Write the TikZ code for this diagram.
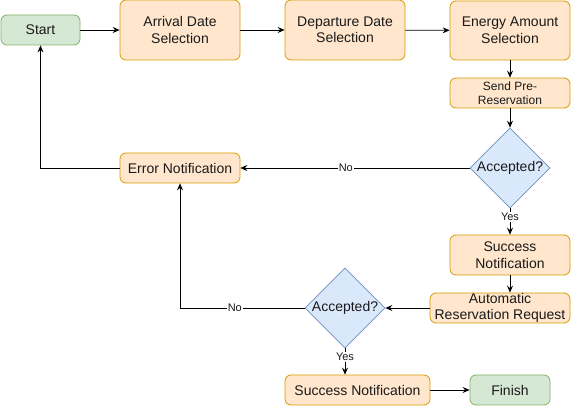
\documentclass[tikz,border=0pt]{standalone}
\usepackage{fontspec}
\setmainfont{Liberation Sans}
\usetikzlibrary{shapes.geometric,arrows.meta}
\definecolor{ofill}{HTML}{FFE6CC}
\definecolor{ostroke}{HTML}{D79B00}
\definecolor{gfill}{HTML}{D5E8D4}
\definecolor{gstroke}{HTML}{82B366}
\definecolor{bfill}{HTML}{DAE8FC}
\definecolor{bstroke}{HTML}{6C8EBF}
\definecolor{txt}{HTML}{1A1A1A}
\begin{document}
\begin{tikzpicture}[x=1pt,y=-1pt,
  every node/.style={font=\fontsize{14}{16.5}\selectfont, text=txt},
  obox/.style={rounded corners=6pt, draw=ostroke, fill=ofill, line width=0.8pt, align=center, inner sep=0pt},
  gbox/.style={rounded corners=6pt, draw=gstroke, fill=gfill, line width=0.8pt, align=center, inner sep=0pt},
  dbox/.style={diamond, aspect=1, draw=bstroke, fill=bfill, line width=0.8pt, inner sep=0pt, minimum width=80pt, minimum height=80pt},
  conn/.style={draw=black, line width=0.8pt, -{Stealth[length=7pt,width=6pt,inset=2.5pt]}},
  lbl/.style={fill=white, inner sep=1pt, font=\fontsize{11}{13}\selectfont}
]
\useasboundingbox (0,0) rectangle (571,406);
\node[gbox, minimum width=79pt, minimum height=30pt] (start) at (40.5,30) {Start};
\node[obox, minimum width=120pt, minimum height=60pt] (arr) at (180,30) {Arrival Date\\Selection};
\node[obox, minimum width=120pt, minimum height=60pt] (dep) at (345,30) {Departure Date\\Selection};
\node[obox, minimum width=120pt, minimum height=59pt] (energy) at (510,30.5) {Energy Amount\\Selection};
\node[obox, minimum width=120pt, minimum height=30pt, font=\fontsize{12}{14.5}\selectfont] (send) at (510,93) {Send Pre-\\Reservation};
\node[dbox] (dia1) at (510,168) {\makebox[0pt]{Accepted?}};
\node[obox, minimum width=120pt, minimum height=40pt] (succ1) at (510,255) {Success\\Notification};
\node[obox, minimum width=140pt, minimum height=30pt] (auto) at (500,308) {Automatic\\Reservation Request};
\node[dbox] (dia2) at (345,308) {\makebox[0pt]{Accepted?}};
\node[obox, minimum width=145pt, minimum height=30pt] (succ2) at (357.5,390) {Success Notification};
\node[gbox, minimum width=80pt, minimum height=30pt] (finish) at (510,390) {Finish};
\node[obox, minimum width=120pt, minimum height=30pt] (err) at (180,168) {Error Notification};

\draw[conn] (start) -- (arr);
\draw[conn] (arr) -- (dep);
\draw[conn] (dep) -- (energy);
\draw[conn] (energy) -- (send);
\draw[conn] (send) -- (dia1);
\draw[conn] (dia1) -- node[lbl, pos=0.33] {Yes} (succ1);
\draw[conn] (dia1) -- node[lbl, pos=0.54] {No} (err);
\draw[conn] (succ1.south) -- (succ1.south |- auto.north);
\draw[conn] (auto) -- (dia2);
\draw[conn] (dia2.south) -- node[lbl, pos=0.33] {Yes} (dia2.south |- succ2.north);
\draw[conn] (dia2.west) -| node[lbl, pos=0.28] {No} (err.south);
\draw[conn] (err.west) -| (start.south);
\draw[conn] (succ2) -- (finish);
\end{tikzpicture}
\end{document}
